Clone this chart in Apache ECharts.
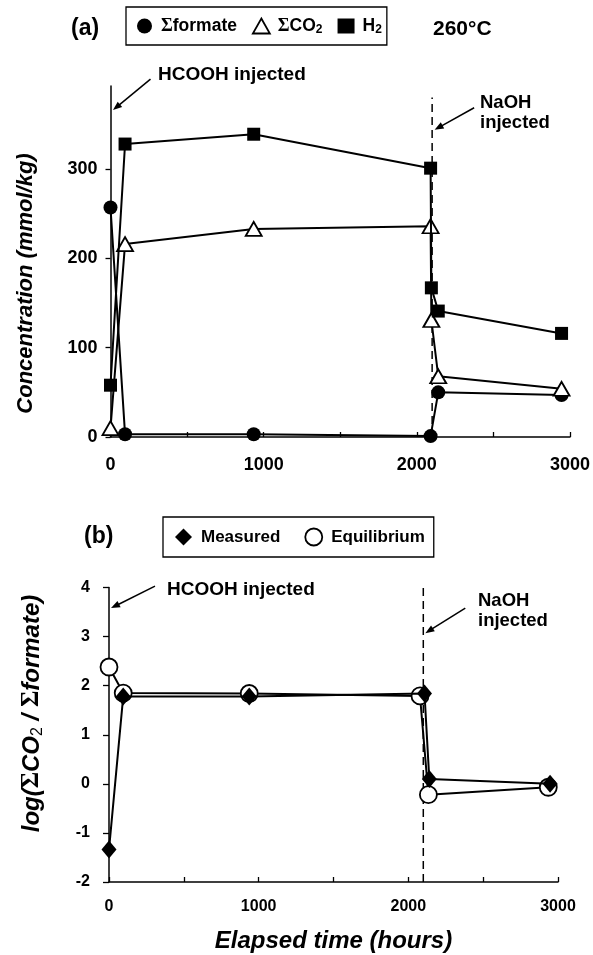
<!DOCTYPE html>
<html>
<head>
<meta charset="utf-8">
<script src="https://cdn.jsdelivr.net/npm/echarts@6/dist/echarts.min.js"></script>
<style>
  html, body { margin: 0; padding: 0; background: #fff; }
  #chart { width: 593px; height: 955px; }
</style>
</head>
<body>
<div id="chart"></div>
<script>
// (a) Concentrations at 260 °C, mmol/kg, against elapsed time in hours
const hoursA = [0, 95, 935, 2090, 2095, 2140, 2945];
const formate = [257, 3, 3, 1, null, 50, 47];
const co2 = [10, 216, 233, 236, 131, 68, 54];
const h2 = [58, 328, 339, 301, 167, 141, 116];

// (b) log(ΣCO2 / Σformate), measured and equilibrium
const hoursMeasured = [0, 95, 937, 2108, 2140, 2947];
const measured = [-1.34, 1.78, 1.78, 1.84, 0.10, 0.0];
const hoursEquilibrium = [0, 95, 937, 2078, 2134, 2935];
const equilibrium = [2.38, 1.85, 1.84, 1.79, -0.22, -0.07];

// Injection events
const hcoohHours = 0;
const naohHours = 2100;

// Tick values
const timeTicks = [0, 1000, 2000, 3000];
const concTicks = [0, 100, 200, 300];
const logTicks = [-2, -1, 0, 1, 2, 3, 4];

const FONT = '"Liberation Sans", Arial, sans-serif';
const SERIF = '"Liberation Serif", "Times New Roman", serif';

function pairs(xs, ys) {
  return xs.map((x, i) => [x, ys[i]]).filter(p => p[1] !== null && p[1] !== undefined);
}

const chart = echarts.init(document.getElementById('chart'), null, { renderer: 'canvas' });

function timeAxis(gridIndex, labelSize, labelMargin, extra) {
  return Object.assign({
    type: 'value', gridIndex: gridIndex, min: 0, max: 3000, interval: 500,
    axisLine: { onZero: false, lineStyle: { color: '#000', width: 1.5 } },
    axisTick: { inside: true, length: 5, lineStyle: { color: '#000', width: 1.3 } },
    axisLabel: {
      color: '#000', fontFamily: FONT, fontWeight: 'bold', fontSize: labelSize, margin: labelMargin,
      formatter: v => (timeTicks.indexOf(v) >= 0 ? String(v) : '')
    },
    splitLine: { show: false }
  }, extra || {});
}

const lineBase = {
  type: 'line', animation: false, connectNulls: true,
  lineStyle: { color: '#000', width: 2 },
  emphasis: { disabled: true }
};

const subRich = {
  s: { fontFamily: SERIF, fontWeight: 'bold', fontStyle: 'normal', fontSize: 18 },
  sub: { fontSize: 12, lineHeight: 12, verticalAlign: 'bottom' }
};

const legendNames = {
  'Σformate': '{s|Σ}formate',
  'ΣCO2': '{s|Σ}CO{sub|2}',
  'H2': 'H{sub|2}'
};

const option = {
  animation: false,
  backgroundColor: '#fff',
  grid: [
    { left: 110.5, top: 86, width: 462, height: 351 },
    { left: 109, top: 587.5, width: 449, height: 294.8 }
  ],
  xAxis: [
    timeAxis(0, 18, 19),
    timeAxis(1, 16, 17, {
      name: 'Elapsed time (hours)', nameLocation: 'middle', nameGap: 46,
      nameTextStyle: { color: '#000', fontFamily: FONT, fontWeight: 'bold', fontStyle: 'italic', fontSize: 24, lineHeight: 26 }
    })
  ],
  yAxis: [
    {
      type: 'value', gridIndex: 0, min: 0, max: 393, interval: 100,
      axisLine: { show: true, onZero: false, lineStyle: { color: '#000', width: 1.5 } },
      axisTick: { show: true, length: 5, customValues: concTicks, lineStyle: { color: '#000', width: 1.3 } },
      axisLabel: { color: '#000', fontFamily: FONT, fontWeight: 'bold', fontSize: 18, margin: 13, customValues: concTicks },
      splitLine: { show: false }
    },
    {
      type: 'value', gridIndex: 1, min: -2, max: 4, interval: 1,
      axisLine: { show: true, onZero: false, lineStyle: { color: '#000', width: 1.5 } },
      axisTick: { show: true, length: 6, lineStyle: { color: '#000', width: 1.3 } },
      axisLabel: { color: '#000', fontFamily: FONT, fontWeight: 'bold', fontSize: 16, margin: 19 },
      splitLine: { show: false }
    }
  ],
  legend: [
    {
      seriesIndex: [0, 1, 2],
      left: 126, top: 7, orient: 'horizontal',
      padding: [9, 5, 9, 11], itemGap: 15, itemWidth: 17, itemHeight: 15,
      borderColor: '#000', borderWidth: 1.3, selectedMode: false,
      data: [
        { name: 'Σformate', icon: 'circle', itemStyle: { color: '#000', borderWidth: 0 } },
        { name: 'ΣCO2', icon: 'triangle', itemStyle: { color: '#fff', borderColor: '#000', borderWidth: 1.8 } },
        { name: 'H2', icon: 'rect', itemStyle: { color: '#000', borderWidth: 0 } }
      ],
      formatter: n => legendNames[n],
      textStyle: { color: '#000', fontFamily: FONT, fontWeight: 'bold', fontSize: 17.5, lineHeight: 20, padding: [0, 0, 0, 3], rich: subRich }
    },
    {
      left: 163, top: 517, orient: 'horizontal',
      padding: [10, 9, 10, 12], itemGap: 24, itemWidth: 17, itemHeight: 17,
      borderColor: '#000', borderWidth: 1.3, selectedMode: false,
      data: [
        { name: 'Measured', icon: 'diamond', itemStyle: { color: '#000', borderWidth: 0 } },
        { name: 'Equilibrium', icon: 'circle', itemStyle: { color: '#fff', borderColor: '#000', borderWidth: 1.8 } }
      ],
      textStyle: { color: '#000', fontFamily: FONT, fontWeight: 'bold', fontSize: 17, lineHeight: 20, padding: [0, 0, 0, 4] }
    }
  ],
  series: [
    Object.assign({}, lineBase, {
      name: 'Σformate', xAxisIndex: 0, yAxisIndex: 0, z: 3,
      symbol: 'circle', symbolSize: 14,
      itemStyle: { color: '#000' },
      data: pairs(hoursA, formate)
    }),
    Object.assign({}, lineBase, {
      name: 'ΣCO2', xAxisIndex: 0, yAxisIndex: 0, z: 4,
      symbol: 'triangle', symbolSize: [16, 14],
      itemStyle: { color: '#fff', borderColor: '#000', borderWidth: 1.8 },
      data: pairs(hoursA, co2)
    }),
    Object.assign({}, lineBase, {
      name: 'H2', xAxisIndex: 0, yAxisIndex: 0, z: 5,
      symbol: 'rect', symbolSize: 13,
      itemStyle: { color: '#000' },
      data: pairs(hoursA, h2)
    }),
    Object.assign({}, lineBase, {
      name: 'naohA', xAxisIndex: 0, yAxisIndex: 0, z: 2, silent: true,
      symbol: 'none', lineStyle: { color: '#000', width: 1.5, type: [8, 5] },
      data: [[naohHours, 0], [naohHours, 380]]
    }),
    Object.assign({}, lineBase, {
      name: 'naohB', xAxisIndex: 1, yAxisIndex: 1, z: 2, silent: true,
      symbol: 'none', lineStyle: { color: '#000', width: 1.5, type: [8, 5] },
      data: [[naohHours, -2], [naohHours, 4]]
    }),
    Object.assign({}, lineBase, {
      name: 'Equilibrium', xAxisIndex: 1, yAxisIndex: 1, z: 3,
      symbol: 'circle', symbolSize: 17,
      itemStyle: { color: '#fff', borderColor: '#000', borderWidth: 1.8 },
      data: pairs(hoursEquilibrium, equilibrium)
    }),
    Object.assign({}, lineBase, {
      name: 'Measured', xAxisIndex: 1, yAxisIndex: 1, z: 4,
      symbol: 'diamond', symbolSize: [15, 18],
      itemStyle: { color: '#000' },
      data: pairs(hoursMeasured, measured)
    })
  ]
};

chart.setOption(option);

// Annotation arrows: a shaft plus a filled head, tip placed on the event line
function arrow(x1, y1, x2, y2) {
  const dx = x2 - x1, dy = y2 - y1, L = Math.hypot(dx, dy);
  const ux = dx / L, uy = dy / L, hl = 9, hw = 3.5;
  const bx = x2 - ux * hl, by = y2 - uy * hl;
  return {
    type: 'group', silent: true,
    children: [
      { type: 'line', shape: { x1: x1, y1: y1, x2: bx + ux * 2, y2: by + uy * 2 }, style: { stroke: '#000', lineWidth: 1.5 } },
      { type: 'polygon', shape: { points: [[x2, y2], [bx - uy * hw, by + ux * hw], [bx + uy * hw, by - ux * hw]] }, style: { fill: '#000' } }
    ]
  };
}

function label(text, x, y, size, extra) {
  return {
    type: 'text', x: x, y: y, silent: true,
    style: Object.assign({
      text: text, fill: '#000', fontFamily: FONT, fontWeight: 'bold', fontSize: size,
      textAlign: 'left', textVerticalAlign: 'middle'
    }, extra || {})
  };
}

const pA = v => chart.convertToPixel({ xAxisIndex: 0, yAxisIndex: 0 }, v);
const pB = v => chart.convertToPixel({ xAxisIndex: 1, yAxisIndex: 1 }, v);

const tipA1 = pA([hcoohHours, 366]);
const tipA2 = pA([naohHours, 344]);
const tipB1 = pB([hcoohHours, 3.58]);
const tipB2 = pB([naohHours, 3.07]);

const titleRich = {
  s: { fontFamily: SERIF, fontWeight: 'bold', fontStyle: 'normal', fontSize: 25 },
  sub: { fontSize: 16, lineHeight: 15, verticalAlign: 'bottom', fontStyle: 'normal' }
};

chart.setOption({
  graphic: [
    label('(a)', 71, 29, 23),
    label('260°C', 433, 29, 21),
    label('(b)', 84, 537, 23),

    label('HCOOH injected', 158, 75, 19),
    arrow(tipA1[0] + 40, tipA1[1] - 31, tipA1[0] + 2.5, tipA1[1]),
    label('NaOH\ninjected', 480, 113, 18.5, { lineHeight: 19.5 }),
    arrow(tipA2[0] + 42, tipA2[1] - 22, tipA2[0] + 2.5, tipA2[1]),

    label('HCOOH injected', 167, 590, 19),
    arrow(tipB1[0] + 46, tipB1[1] - 22, tipB1[0] + 2, tipB1[1]),
    label('NaOH\ninjected', 478, 611, 18.5, { lineHeight: 20 }),
    arrow(tipB2[0] + 42, tipB2[1] - 25, tipB2[0] + 2, tipB2[1]),

    {
      type: 'text', x: 26, y: 283.5, rotation: Math.PI / 2, silent: true,
      style: {
        text: 'Concentration (mmol/kg)', fill: '#000', fontFamily: FONT, fontWeight: 'bold', fontStyle: 'italic',
        fontSize: 22, textAlign: 'center', textVerticalAlign: 'middle'
      }
    },
    {
      type: 'text', x: 32, y: 713.5, rotation: Math.PI / 2, silent: true,
      style: {
        text: 'log({s|Σ}CO{sub|2} / {s|Σ}formate)', fill: '#000', fontFamily: FONT, fontWeight: 'bold', fontStyle: 'italic',
        fontSize: 24, lineHeight: 28, textAlign: 'center', textVerticalAlign: 'middle', rich: titleRich
      }
    }
  ]
});
</script>
</body>
</html>
